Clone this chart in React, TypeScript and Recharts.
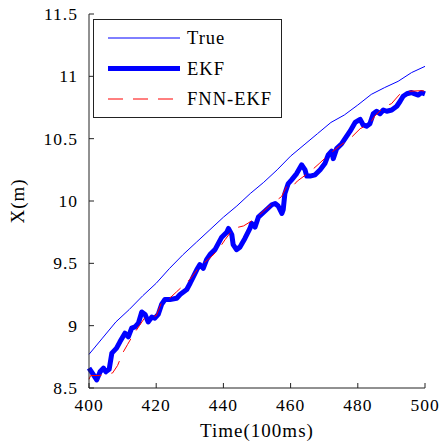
import { Legend, Line, LineChart, XAxis, YAxis } from "recharts"

const serif = '"Liberation Serif", "Times New Roman", serif'

const xTicks = [400, 420, 440, 460, 480, 500]
const yTicks = [8.5, 9, 9.5, 10, 10.5, 11, 11.5]

// true trajectory
const trueTime = [400, 404, 408, 412, 416, 420, 424, 428, 432, 436, 440, 444, 448, 452, 456, 460, 464, 468, 472, 476, 480, 484, 488, 492, 496, 500]
const trueX = [8.77, 8.9, 9.03, 9.13, 9.24, 9.34, 9.46, 9.57, 9.67, 9.77, 9.87, 9.96, 10.06, 10.15, 10.25, 10.36, 10.45, 10.54, 10.63, 10.69, 10.77, 10.855, 10.91, 10.96, 11.03, 11.08]

// EKF estimate
const ekfTime = [
  400, 401, 402.3, 403.3, 404.3, 405, 406, 406.8, 408.2, 409.2, 410.7, 411.7, 412.7, 413.7, 414.7, 415.7,
  416.7, 417.6, 418.7, 419.6, 420.6, 421.6, 422.6, 424.1, 426.1, 427.1, 429.1, 430.1, 431, 432.1, 433,
  434, 435, 436, 437.5, 439.5, 441, 441.5, 442.5, 442.9, 443.9, 444.9, 446.4, 447.9, 448.4, 449.4,
  450.4, 452.4, 454.4, 455.4, 456.3, 457.4, 457.8, 458.3, 459.3, 460.3, 461.8, 463.3, 464.3, 464.8,
  465.8, 467.3, 468.8, 470.2, 471.2, 472.2, 472.7, 473.7, 475.2, 476.2, 477.7, 479.2, 480.7, 481.6,
  482.6, 483.6, 484.6, 485.6, 486.6, 487.6, 488.6, 490.1, 491.6, 492.6, 493.5, 494.6, 496, 497, 498,
  499, 500,
]
const ekfX = [
  8.66, 8.62, 8.565, 8.63, 8.66, 8.63, 8.65, 8.78, 8.82, 8.87, 8.94, 8.91, 8.98, 8.99, 9.02, 9.11,
  9.09, 9.03, 9.07, 9.06, 9.09, 9.17, 9.21, 9.21, 9.22, 9.25, 9.29, 9.34, 9.39, 9.45, 9.49,
  9.46, 9.53, 9.57, 9.61, 9.71, 9.75, 9.78, 9.73, 9.65, 9.61, 9.63, 9.7, 9.78, 9.82, 9.79,
  9.87, 9.92, 9.97, 9.98, 9.96, 9.9, 9.93, 10.06, 10.14, 10.17, 10.22, 10.29, 10.25, 10.2,
  10.2, 10.21, 10.25, 10.3, 10.37, 10.4, 10.34, 10.42, 10.46, 10.5, 10.56, 10.63, 10.655, 10.61,
  10.6, 10.62, 10.7, 10.72, 10.7, 10.73, 10.72, 10.73, 10.76, 10.8, 10.84, 10.86, 10.87, 10.86, 10.85,
  10.87, 10.86,
]

// FNN-EKF estimate
const fnnTime = [
  400, 400.5, 403, 405, 407, 408.5, 410, 411.5, 413, 415, 416.5, 418, 420, 421.5, 424, 426, 428, 430,
  432.5, 434.5, 436.5, 438.5, 440.5, 443, 446, 449, 452, 455, 457.3, 458.8, 460, 462, 465.8, 468.5,
  471.7, 474.5, 477.7, 480.7, 483.6, 485, 488, 490, 492.6, 495, 499, 500,
]
const fnnX = [
  8.57, 8.6, 8.6, 8.61, 8.62, 8.68, 8.78, 8.85, 8.92, 9.0, 9.06, 9.07, 9.08, 9.18, 9.22, 9.27, 9.32, 9.37,
  9.46, 9.51, 9.555, 9.61, 9.69, 9.78, 9.8, 9.85, 9.92, 9.99, 10.035, 10.115, 10.1, 10.16, 10.235, 10.3,
  10.38, 10.44, 10.5, 10.58, 10.62, 10.68, 10.76, 10.78, 10.86, 10.88, 10.885, 10.88,
]

const toPoints = (time: number[], x: number[]) => time.map((t, i) => ({ t, x: x[i] }))

const trueData = toPoints(trueTime, trueX)
const ekfData = toPoints(ekfTime, ekfX)
const fnnData = toPoints(fnnTime, fnnX)

const seriesNames = ["True", "EKF", "FNN-EKF"]
const seriesStyle: Record<string, { color: string; width: number; dash?: string }> = {
  True: { color: "#0000ff", width: 1 },
  EKF: { color: "#0000ff", width: 5 },
  "FNN-EKF": { color: "#ff0000", width: 1, dash: "15 10" },
}

const textStyle = { fontFamily: serif, letterSpacing: 1 }

function LegendBox(props: any) {
  const payload: any[] = [...(props.payload ?? [])].sort(
    (a, b) => seriesNames.indexOf(a.value) - seriesNames.indexOf(b.value),
  )
  return (
    <div style={{ width: 187, height: 97, border: "1px solid #222", background: "#fff" }}>
      <svg width={187} height={97}>
        {payload.map((entry, i) => {
          const s = seriesStyle[entry.value]
          const y = 18 + i * 30.5
          return (
            <g key={entry.value}>
              <line x1={14} x2={86} y1={y} y2={y} stroke={s.color} strokeWidth={s.width} strokeDasharray={s.dash} />
              <text x={93} y={y} dy="0.35em" fontSize={18.5} fill="#000" style={textStyle}>
                {entry.value}
              </text>
            </g>
          )
        })}
      </svg>
    </div>
  )
}

function BottomTick(props: any) {
  return (
    <text x={props.x} y={props.y} dy="0.71em" textAnchor="middle" fontSize={17.5} fill="#000" style={textStyle}>
      {props.payload.value}
    </text>
  )
}

function LeftTick(props: any) {
  return (
    <text x={props.x} y={props.y} dy="0.35em" textAnchor="end" fontSize={17.5} fill="#000" style={textStyle}>
      {props.payload.value}
    </text>
  )
}

const blank = () => ""

export default function App() {
  return (
    <div style={{ position: "absolute", left: 0, top: 0, width: 441, height: 445, background: "#fff", fontFamily: serif }}>
      <LineChart width={441} height={445} margin={{ top: 14, right: 16, bottom: 0, left: 0 }}>
        <XAxis
          xAxisId="b"
          dataKey="t"
          type="number"
          domain={[400, 500]}
          ticks={xTicks}
          height={57}
          tickSize={-5}
          tickMargin={16}
          stroke="#222"
          tick={<BottomTick />}
          label={{ value: "Time(100ms)", position: "insideBottom", offset: 8, fill: "#000", fontSize: 19, style: textStyle }}
        />
        <XAxis xAxisId="top" type="number" orientation="top" domain={[400, 500]} ticks={xTicks} height={0} tickSize={-5} tickFormatter={blank} stroke="#222" />
        <YAxis
          yAxisId="l"
          type="number"
          domain={[8.5, 11.5]}
          ticks={yTicks}
          width={89}
          tickSize={-5}
          tickMargin={16}
          stroke="#222"
          tick={<LeftTick />}
          label={{ value: "X(m)", angle: -90, position: "insideLeft", offset: 17, fill: "#000", fontSize: 19, style: { ...textStyle, textAnchor: "middle" } }}
        />
        <YAxis yAxisId="r" type="number" orientation="right" domain={[8.5, 11.5]} ticks={yTicks} width={0} tickSize={-5} tickFormatter={blank} stroke="#222" />
        <Legend
          layout="vertical"
          align="center"
          verticalAlign="middle"
          content={<LegendBox />}
          wrapperStyle={{ left: 93, top: 19, width: 189, height: 99 }}
        />
        <Line xAxisId="b" yAxisId="l" data={trueData} dataKey="x" name="True" type="linear" stroke="#0000ff" strokeWidth={1} dot={false} isAnimationActive={false} />
        <Line xAxisId="b" yAxisId="l" data={ekfData} dataKey="x" name="EKF" type="linear" stroke="#0000ff" strokeWidth={5} strokeLinejoin="round" dot={false} isAnimationActive={false} />
        <Line xAxisId="b" yAxisId="l" data={fnnData} dataKey="x" name="FNN-EKF" type="linear" stroke="#ff0000" strokeWidth={1} strokeDasharray="15 10" dot={false} isAnimationActive={false} />
      </LineChart>
    </div>
  )
}
